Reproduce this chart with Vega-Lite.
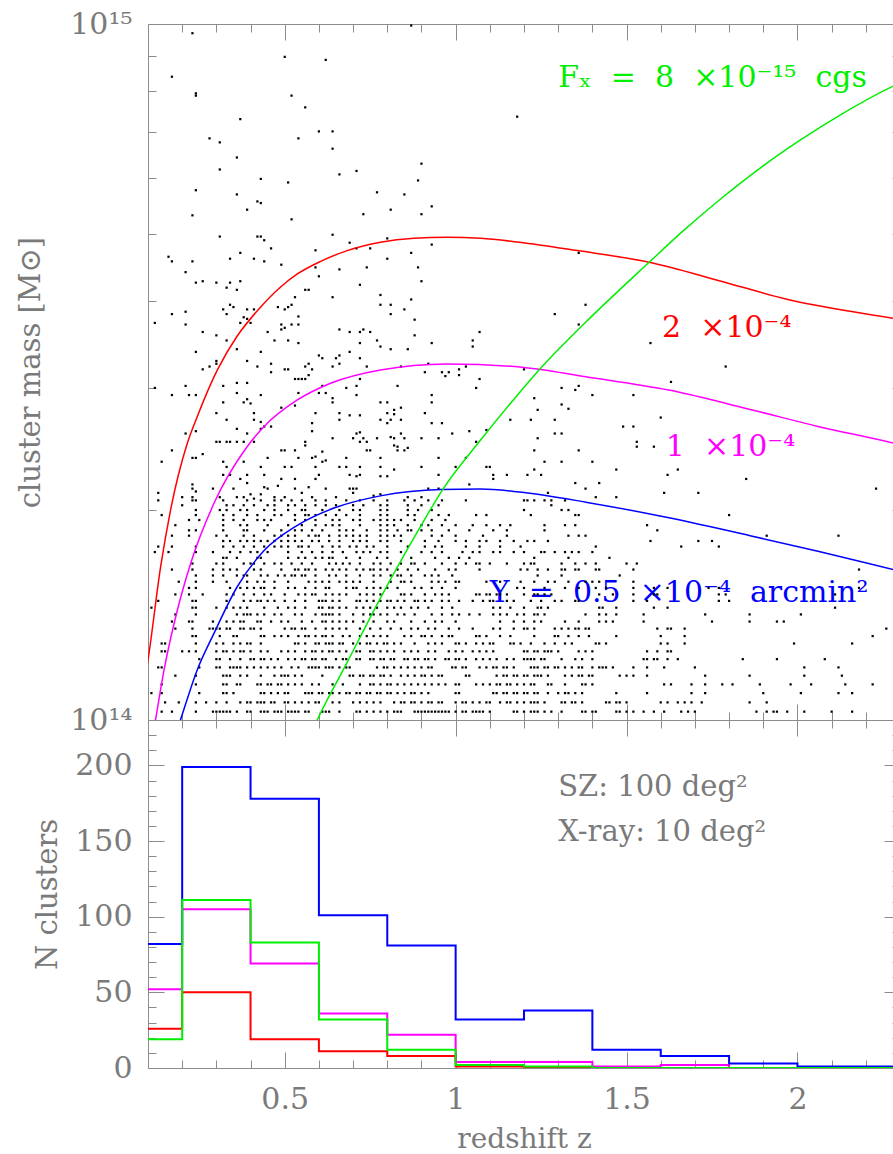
{
"$schema":"https://vega.github.io/schema/vega-lite/v6.json",
"background":"white",
"padding":{"left":16,"top":9,"right":0,"bottom":0},
"spacing":0,
"bounds":"flush",
"config":{"view":{"stroke":null},"font":"DejaVu Serif",
"axis":{"domainColor":"#8c8c8c","tickColor":"#8c8c8c","labelColor":"#7a7a7a","titleColor":"#7a7a7a","labelFont":"DejaVu Serif","titleFont":"DejaVu Serif","labelFontSize":30,"titleFontSize":29,"titleFontWeight":"normal","grid":false,"labelFlush":false,"labelOverlap":false,"tickWidth":1,"domainWidth":1}},
"datasets":{
"curves":[
{"s":"r","z":0.09,"m":1.14},{"s":"r","z":0.1,"m":1.22},{"s":"r","z":0.137,"m":1.661},{"s":"r","z":0.166,"m":2.003},{"s":"r","z":0.215,"m":2.498},{"s":"r","z":0.244,"m":2.728},{"s":"r","z":0.303,"m":3.184},{"s":"r","z":0.361,"m":3.562},{"s":"r","z":0.42,"m":3.874},{"s":"r","z":0.488,"m":4.19},{"s":"r","z":0.537,"m":4.374},{"s":"r","z":0.605,"m":4.56},{"s":"r","z":0.683,"m":4.725},{"s":"r","z":0.78,"m":4.858},{"s":"r","z":0.878,"m":4.922},{"s":"r","z":0.975,"m":4.938},{"s":"r","z":1.073,"m":4.922},{"s":"r","z":1.186,"m":4.858},{"s":"r","z":1.356,"m":4.725},{"s":"r","z":1.566,"m":4.546},{"s":"r","z":1.771,"m":4.278},{"s":"r","z":1.966,"m":4.026},{"s":"r","z":2.282,"m":3.777},{"s":"r","z":2.35,"m":3.73},
{"s":"mg","z":0.115,"m":0.955},{"s":"mg","z":0.122,"m":1.0},{"s":"mg","z":0.147,"m":1.18},{"s":"mg","z":0.186,"m":1.439},{"s":"mg","z":0.225,"m":1.68},{"s":"mg","z":0.293,"m":2.048},{"s":"mg","z":0.39,"m":2.47},{"s":"mg","z":0.439,"m":2.639},{"s":"mg","z":0.537,"m":2.883},{"s":"mg","z":0.634,"m":3.047},{"s":"mg","z":0.78,"m":3.184},{"s":"mg","z":0.975,"m":3.248},{"s":"mg","z":1.194,"m":3.213},{"s":"mg","z":1.381,"m":3.113},{"s":"mg","z":1.624,"m":2.979},{"s":"mg","z":1.868,"m":2.789},{"s":"mg","z":2.063,"m":2.639},{"s":"mg","z":2.282,"m":2.498},{"s":"mg","z":2.35,"m":2.45},
{"s":"b","z":0.18,"m":0.95},{"s":"b","z":0.195,"m":1.0},{"s":"b","z":0.244,"m":1.18},{"s":"b","z":0.293,"m":1.332},{"s":"b","z":0.361,"m":1.554},{"s":"b","z":0.439,"m":1.75},{"s":"b","z":0.537,"m":1.904},{"s":"b","z":0.644,"m":2.016},{"s":"b","z":0.78,"m":2.099},{"s":"b","z":0.956,"m":2.144},{"s":"b","z":1.073,"m":2.147},{"s":"b","z":1.186,"m":2.126},{"s":"b","z":1.381,"m":2.056},{"s":"b","z":1.624,"m":1.952},{"s":"b","z":1.868,"m":1.837},{"s":"b","z":2.063,"m":1.746},{"s":"b","z":2.282,"m":1.644},{"s":"b","z":2.35,"m":1.614},
{"s":"g","z":0.57,"m":0.94},{"s":"g","z":0.595,"m":1.0},{"s":"g","z":0.683,"m":1.211},{"s":"g","z":0.78,"m":1.497},{"s":"g","z":0.878,"m":1.826},{"s":"g","z":0.965,"m":2.154},{"s":"g","z":1.073,"m":2.525},{"s":"g","z":1.186,"m":2.951},{"s":"g","z":1.244,"m":3.184},{"s":"g","z":1.381,"m":3.731},{"s":"g","z":1.566,"m":4.546},{"s":"g","z":1.659,"m":5.01},{"s":"g","z":1.776,"m":5.61},{"s":"g","z":1.893,"m":6.22},{"s":"g","z":2.01,"m":6.82},{"s":"g","z":2.127,"m":7.41},{"s":"g","z":2.282,"m":8.15},{"s":"g","z":2.35,"m":8.42}
],
"labels":[
{"t":"Fₓ\u2007=\u20078\u2007×10⁻¹⁵\u2007cgs","z":1.3,"m":8.12,"s":"Fx"},
{"t":"2\u2007×10⁻⁴","z":1.604,"m":3.55,"s":"Y2"},
{"t":"1\u2007×10⁻⁴","z":1.615,"m":2.395,"s":"Y1"},
{"t":"Y\u2007=\u20070.5\u2007×10⁻⁴\u2007arcmin²","z":1.1,"m":1.477,"s":"Y05"}
],
"notes":[
{"t":"SZ: 100 deg²","z":1.3,"n":180},
{"t":"X-ray: 10 deg²","z":1.3,"n":150}
],
"hist":[
{"s":"r","z":0.1,"n":26},{"s":"r","z":0.2,"n":50},{"s":"r","z":0.4,"n":19},{"s":"r","z":0.6,"n":11},{"s":"r","z":0.8,"n":8},{"s":"r","z":1.0,"n":1},{"s":"r","z":1.2,"n":0},{"s":"r","z":1.4,"n":0},{"s":"r","z":1.6,"n":0},{"s":"r","z":1.8,"n":0},{"s":"r","z":2.0,"n":0},{"s":"r","z":2.2,"n":0},{"s":"r","z":2.4,"n":0},
{"s":"mg","z":0.1,"n":52},{"s":"mg","z":0.2,"n":105},{"s":"mg","z":0.4,"n":69},{"s":"mg","z":0.6,"n":36},{"s":"mg","z":0.8,"n":22},{"s":"mg","z":1.0,"n":4},{"s":"mg","z":1.2,"n":4},{"s":"mg","z":1.4,"n":1},{"s":"mg","z":1.6,"n":2},{"s":"mg","z":1.8,"n":0},{"s":"mg","z":2.0,"n":0},{"s":"mg","z":2.2,"n":0},{"s":"mg","z":2.4,"n":0},
{"s":"b","z":0.1,"n":82},{"s":"b","z":0.2,"n":199},{"s":"b","z":0.4,"n":178},{"s":"b","z":0.6,"n":101},{"s":"b","z":0.8,"n":81},{"s":"b","z":1.0,"n":32},{"s":"b","z":1.2,"n":38},{"s":"b","z":1.4,"n":12},{"s":"b","z":1.6,"n":8},{"s":"b","z":1.8,"n":3},{"s":"b","z":2.0,"n":1},{"s":"b","z":2.2,"n":1},{"s":"b","z":2.4,"n":1},
{"s":"g","z":0.1,"n":19},{"s":"g","z":0.2,"n":111},{"s":"g","z":0.4,"n":83},{"s":"g","z":0.6,"n":32},{"s":"g","z":0.8,"n":12},{"s":"g","z":1.0,"n":2},{"s":"g","z":1.2,"n":1},{"s":"g","z":1.4,"n":0},{"s":"g","z":1.6,"n":0},{"s":"g","z":1.8,"n":0},{"s":"g","z":2.0,"n":0},{"s":"g","z":2.2,"n":0},{"s":"g","z":2.4,"n":0}
],
"pts":[
{"z":0.14,"m":1.028},{"z":0.17,"m":1.028},{"z":0.24,"m":1.028},{"z":0.29,"m":1.028},{"z":0.30,"m":1.028},{"z":0.31,"m":1.028},{"z":0.32,"m":1.028},{"z":0.33,"m":1.028},{"z":0.34,"m":1.028},{"z":0.36,"m":1.028},{"z":0.39,"m":1.028},{"z":0.40,"m":1.028},{"z":0.43,"m":1.028},{"z":0.44,"m":1.028},{"z":0.45,"m":1.028},{"z":0.47,"m":1.028},{"z":0.48,"m":1.028},{"z":0.49,"m":1.028},{"z":0.51,"m":1.028},{"z":0.52,"m":1.028},{"z":0.53,"m":1.028},{"z":0.54,"m":1.028},{"z":0.56,"m":1.028},{"z":0.57,"m":1.028},{"z":0.61,"m":1.028},{"z":0.62,"m":1.028},{"z":0.63,"m":1.028},{"z":0.66,"m":1.028},{"z":0.71,"m":1.028},{"z":0.72,"m":1.028},{"z":0.74,"m":1.028},{"z":0.76,"m":1.028},{"z":0.78,"m":1.028},{"z":0.80,"m":1.028},{"z":0.82,"m":1.028},{"z":0.83,"m":1.028},{"z":0.84,"m":1.028},{"z":0.88,"m":1.028},{"z":0.89,"m":1.028},{"z":0.90,"m":1.028},{"z":0.91,"m":1.028},{"z":0.92,"m":1.028},{"z":0.93,"m":1.028},{"z":0.94,"m":1.028},{"z":0.95,"m":1.028},{"z":0.96,"m":1.028},{"z":0.97,"m":1.028},{"z":0.98,"m":1.028},{"z":1.00,"m":1.028},{"z":1.02,"m":1.028},{"z":1.03,"m":1.028},{"z":1.05,"m":1.028},{"z":1.06,"m":1.028},{"z":1.07,"m":1.028},{"z":1.08,"m":1.028},{"z":1.10,"m":1.028},{"z":1.17,"m":1.028},{"z":1.18,"m":1.028},{"z":1.20,"m":1.028},{"z":1.22,"m":1.028},{"z":1.23,"m":1.028},{"z":1.24,"m":1.028},{"z":1.26,"m":1.028},{"z":1.28,"m":1.028},{"z":1.31,"m":1.028},{"z":1.37,"m":1.028},{"z":1.38,"m":1.028},{"z":1.40,"m":1.028},{"z":1.41,"m":1.028},{"z":1.47,"m":1.028},{"z":1.48,"m":1.028},{"z":1.50,"m":1.028},{"z":1.52,"m":1.028},{"z":1.55,"m":1.028},{"z":1.58,"m":1.028},{"z":1.61,"m":1.028},{"z":1.66,"m":1.028},{"z":1.68,"m":1.028},{"z":1.70,"m":1.028},{"z":1.88,"m":1.028},{"z":1.91,"m":1.028},{"z":1.93,"m":1.028},{"z":1.94,"m":1.028},{"z":1.97,"m":1.028},{"z":2.02,"m":1.028},{"z":2.10,"m":1.028},{"z":2.16,"m":1.028},
{"z":0.15,"m":1.06},{"z":0.19,"m":1.06},{"z":0.24,"m":1.06},{"z":0.27,"m":1.06},{"z":0.30,"m":1.06},{"z":0.33,"m":1.06},{"z":0.37,"m":1.06},{"z":0.39,"m":1.06},{"z":0.40,"m":1.06},{"z":0.42,"m":1.06},{"z":0.43,"m":1.06},{"z":0.44,"m":1.06},{"z":0.46,"m":1.06},{"z":0.47,"m":1.06},{"z":0.50,"m":1.06},{"z":0.51,"m":1.06},{"z":0.53,"m":1.06},{"z":0.55,"m":1.06},{"z":0.57,"m":1.06},{"z":0.59,"m":1.06},{"z":0.60,"m":1.06},{"z":0.64,"m":1.06},{"z":0.66,"m":1.06},{"z":0.70,"m":1.06},{"z":0.72,"m":1.06},{"z":0.74,"m":1.06},{"z":0.76,"m":1.06},{"z":0.78,"m":1.06},{"z":0.82,"m":1.06},{"z":0.84,"m":1.06},{"z":0.85,"m":1.06},{"z":0.87,"m":1.06},{"z":0.88,"m":1.06},{"z":0.90,"m":1.06},{"z":0.92,"m":1.06},{"z":0.93,"m":1.06},{"z":0.95,"m":1.06},{"z":0.96,"m":1.06},{"z":1.00,"m":1.06},{"z":1.02,"m":1.06},{"z":1.03,"m":1.06},{"z":1.05,"m":1.06},{"z":1.07,"m":1.06},{"z":1.09,"m":1.06},{"z":1.10,"m":1.06},{"z":1.13,"m":1.06},{"z":1.15,"m":1.06},{"z":1.16,"m":1.06},{"z":1.18,"m":1.06},{"z":1.20,"m":1.06},{"z":1.22,"m":1.06},{"z":1.23,"m":1.06},{"z":1.24,"m":1.06},{"z":1.26,"m":1.06},{"z":1.31,"m":1.06},{"z":1.32,"m":1.06},{"z":1.34,"m":1.06},{"z":1.35,"m":1.06},{"z":1.37,"m":1.06},{"z":1.44,"m":1.06},{"z":1.45,"m":1.06},{"z":1.47,"m":1.06},{"z":1.48,"m":1.06},{"z":1.50,"m":1.06},{"z":1.60,"m":1.06},{"z":1.62,"m":1.06},{"z":1.65,"m":1.06},{"z":1.67,"m":1.06},{"z":1.69,"m":1.06},{"z":1.72,"m":1.06},{"z":1.86,"m":1.06},{"z":1.91,"m":1.06},
{"z":0.11,"m":1.093},{"z":0.14,"m":1.093},{"z":0.25,"m":1.093},{"z":0.32,"m":1.093},{"z":0.33,"m":1.093},{"z":0.35,"m":1.093},{"z":0.43,"m":1.093},{"z":0.44,"m":1.093},{"z":0.46,"m":1.093},{"z":0.48,"m":1.093},{"z":0.50,"m":1.093},{"z":0.51,"m":1.093},{"z":0.56,"m":1.093},{"z":0.57,"m":1.093},{"z":0.58,"m":1.093},{"z":0.60,"m":1.093},{"z":0.61,"m":1.093},{"z":0.63,"m":1.093},{"z":0.64,"m":1.093},{"z":0.66,"m":1.093},{"z":0.68,"m":1.093},{"z":0.69,"m":1.093},{"z":0.71,"m":1.093},{"z":0.72,"m":1.093},{"z":0.74,"m":1.093},{"z":0.75,"m":1.093},{"z":0.77,"m":1.093},{"z":0.78,"m":1.093},{"z":0.80,"m":1.093},{"z":0.81,"m":1.093},{"z":0.83,"m":1.093},{"z":0.85,"m":1.093},{"z":0.87,"m":1.093},{"z":0.88,"m":1.093},{"z":0.90,"m":1.093},{"z":0.92,"m":1.093},{"z":1.00,"m":1.093},{"z":1.01,"m":1.093},{"z":1.11,"m":1.093},{"z":1.12,"m":1.093},{"z":1.14,"m":1.093},{"z":1.15,"m":1.093},{"z":1.17,"m":1.093},{"z":1.18,"m":1.093},{"z":1.20,"m":1.093},{"z":1.21,"m":1.093},{"z":1.23,"m":1.093},{"z":1.24,"m":1.093},{"z":1.27,"m":1.093},{"z":1.30,"m":1.093},{"z":1.32,"m":1.093},{"z":1.33,"m":1.093},{"z":1.35,"m":1.093},{"z":1.37,"m":1.093},{"z":1.47,"m":1.093},{"z":1.56,"m":1.093},{"z":1.69,"m":1.093},{"z":1.73,"m":1.093},{"z":1.90,"m":1.093},{"z":2.01,"m":1.093},{"z":2.12,"m":1.093},{"z":2.16,"m":1.093},
{"z":0.14,"m":1.125},{"z":0.24,"m":1.125},{"z":0.32,"m":1.125},{"z":0.33,"m":1.125},{"z":0.36,"m":1.125},{"z":0.37,"m":1.125},{"z":0.42,"m":1.125},{"z":0.43,"m":1.125},{"z":0.45,"m":1.125},{"z":0.46,"m":1.125},{"z":0.48,"m":1.125},{"z":0.49,"m":1.125},{"z":0.51,"m":1.125},{"z":0.53,"m":1.125},{"z":0.55,"m":1.125},{"z":0.58,"m":1.125},{"z":0.60,"m":1.125},{"z":0.64,"m":1.125},{"z":0.67,"m":1.125},{"z":0.72,"m":1.125},{"z":0.75,"m":1.125},{"z":0.76,"m":1.125},{"z":0.78,"m":1.125},{"z":0.80,"m":1.125},{"z":0.81,"m":1.125},{"z":0.83,"m":1.125},{"z":0.85,"m":1.125},{"z":0.87,"m":1.125},{"z":0.89,"m":1.125},{"z":0.91,"m":1.125},{"z":0.93,"m":1.125},{"z":0.95,"m":1.125},{"z":0.97,"m":1.125},{"z":1.00,"m":1.125},{"z":1.01,"m":1.125},{"z":1.06,"m":1.125},{"z":1.08,"m":1.125},{"z":1.10,"m":1.125},{"z":1.12,"m":1.125},{"z":1.13,"m":1.125},{"z":1.15,"m":1.125},{"z":1.16,"m":1.125},{"z":1.18,"m":1.125},{"z":1.20,"m":1.125},{"z":1.22,"m":1.125},{"z":1.23,"m":1.125},{"z":1.27,"m":1.125},{"z":1.28,"m":1.125},{"z":1.32,"m":1.125},{"z":1.37,"m":1.125},{"z":1.38,"m":1.125},{"z":1.40,"m":1.125},{"z":1.61,"m":1.125},{"z":1.63,"m":1.125},{"z":1.69,"m":1.125},{"z":1.73,"m":1.125},{"z":1.78,"m":1.125},{"z":1.81,"m":1.125},{"z":1.89,"m":1.125},{"z":1.98,"m":1.125},{"z":2.04,"m":1.125},{"z":2.14,"m":1.125},{"z":2.22,"m":1.125},
{"z":0.18,"m":1.158},{"z":0.24,"m":1.158},{"z":0.32,"m":1.158},{"z":0.33,"m":1.158},{"z":0.34,"m":1.158},{"z":0.37,"m":1.158},{"z":0.39,"m":1.158},{"z":0.43,"m":1.158},{"z":0.47,"m":1.158},{"z":0.49,"m":1.158},{"z":0.50,"m":1.158},{"z":0.51,"m":1.158},{"z":0.53,"m":1.158},{"z":0.55,"m":1.158},{"z":0.61,"m":1.158},{"z":0.69,"m":1.158},{"z":0.70,"m":1.158},{"z":0.72,"m":1.158},{"z":0.73,"m":1.158},{"z":0.75,"m":1.158},{"z":0.76,"m":1.158},{"z":0.78,"m":1.158},{"z":0.79,"m":1.158},{"z":0.81,"m":1.158},{"z":0.84,"m":1.158},{"z":0.86,"m":1.158},{"z":0.88,"m":1.158},{"z":0.90,"m":1.158},{"z":0.91,"m":1.158},{"z":0.93,"m":1.158},{"z":0.95,"m":1.158},{"z":0.96,"m":1.158},{"z":1.03,"m":1.158},{"z":1.04,"m":1.158},{"z":1.12,"m":1.158},{"z":1.14,"m":1.158},{"z":1.15,"m":1.158},{"z":1.17,"m":1.158},{"z":1.18,"m":1.158},{"z":1.20,"m":1.158},{"z":1.21,"m":1.158},{"z":1.23,"m":1.158},{"z":1.24,"m":1.158},{"z":1.25,"m":1.158},{"z":1.27,"m":1.158},{"z":1.32,"m":1.158},{"z":1.34,"m":1.158},{"z":1.36,"m":1.158},{"z":1.37,"m":1.158},{"z":1.39,"m":1.158},{"z":1.40,"m":1.158},{"z":1.48,"m":1.158},{"z":1.50,"m":1.158},{"z":1.52,"m":1.158},{"z":1.56,"m":1.158},{"z":1.73,"m":1.158},{"z":1.86,"m":1.158},{"z":2.02,"m":1.158},{"z":2.13,"m":1.158},
{"z":0.13,"m":1.19},{"z":0.14,"m":1.19},{"z":0.25,"m":1.19},{"z":0.30,"m":1.19},{"z":0.31,"m":1.19},{"z":0.34,"m":1.19},{"z":0.35,"m":1.19},{"z":0.36,"m":1.19},{"z":0.37,"m":1.19},{"z":0.39,"m":1.19},{"z":0.41,"m":1.19},{"z":0.43,"m":1.19},{"z":0.45,"m":1.19},{"z":0.47,"m":1.19},{"z":0.49,"m":1.19},{"z":0.52,"m":1.19},{"z":0.54,"m":1.19},{"z":0.57,"m":1.19},{"z":0.58,"m":1.19},{"z":0.59,"m":1.19},{"z":0.60,"m":1.19},{"z":0.62,"m":1.19},{"z":0.63,"m":1.19},{"z":0.64,"m":1.19},{"z":0.66,"m":1.19},{"z":0.68,"m":1.19},{"z":0.69,"m":1.19},{"z":0.77,"m":1.19},{"z":0.79,"m":1.19},{"z":0.80,"m":1.19},{"z":0.82,"m":1.19},{"z":0.84,"m":1.19},{"z":0.86,"m":1.19},{"z":0.88,"m":1.19},{"z":0.90,"m":1.19},{"z":0.92,"m":1.19},{"z":0.93,"m":1.19},{"z":0.99,"m":1.19},{"z":1.00,"m":1.19},{"z":1.02,"m":1.19},{"z":1.03,"m":1.19},{"z":1.07,"m":1.19},{"z":1.09,"m":1.19},{"z":1.11,"m":1.19},{"z":1.12,"m":1.19},{"z":1.14,"m":1.19},{"z":1.15,"m":1.19},{"z":1.17,"m":1.19},{"z":1.22,"m":1.19},{"z":1.23,"m":1.19},{"z":1.24,"m":1.19},{"z":1.26,"m":1.19},{"z":1.27,"m":1.19},{"z":1.29,"m":1.19},{"z":1.30,"m":1.19},{"z":1.32,"m":1.19},{"z":1.34,"m":1.19},{"z":1.36,"m":1.19},{"z":1.37,"m":1.19},{"z":1.40,"m":1.19},{"z":1.42,"m":1.19},{"z":1.43,"m":1.19},{"z":1.44,"m":1.19},{"z":1.46,"m":1.19},{"z":1.52,"m":1.19},{"z":1.56,"m":1.19},{"z":1.61,"m":1.19},{"z":1.70,"m":1.19},{"z":2.02,"m":1.19},{"z":2.12,"m":1.19},
{"z":0.25,"m":1.223},{"z":0.30,"m":1.223},{"z":0.31,"m":1.223},{"z":0.34,"m":1.223},{"z":0.37,"m":1.223},{"z":0.40,"m":1.223},{"z":0.41,"m":1.223},{"z":0.43,"m":1.223},{"z":0.44,"m":1.223},{"z":0.46,"m":1.223},{"z":0.48,"m":1.223},{"z":0.51,"m":1.223},{"z":0.53,"m":1.223},{"z":0.55,"m":1.223},{"z":0.56,"m":1.223},{"z":0.58,"m":1.223},{"z":0.59,"m":1.223},{"z":0.61,"m":1.223},{"z":0.62,"m":1.223},{"z":0.65,"m":1.223},{"z":0.67,"m":1.223},{"z":0.68,"m":1.223},{"z":0.71,"m":1.223},{"z":0.72,"m":1.223},{"z":0.75,"m":1.223},{"z":0.76,"m":1.223},{"z":0.78,"m":1.223},{"z":0.79,"m":1.223},{"z":0.81,"m":1.223},{"z":0.82,"m":1.223},{"z":0.85,"m":1.223},{"z":0.86,"m":1.223},{"z":0.88,"m":1.223},{"z":0.89,"m":1.223},{"z":0.91,"m":1.223},{"z":0.92,"m":1.223},{"z":0.94,"m":1.223},{"z":0.97,"m":1.223},{"z":0.98,"m":1.223},{"z":1.00,"m":1.223},{"z":1.01,"m":1.223},{"z":1.03,"m":1.223},{"z":1.06,"m":1.223},{"z":1.08,"m":1.223},{"z":1.10,"m":1.223},{"z":1.12,"m":1.223},{"z":1.15,"m":1.223},{"z":1.17,"m":1.223},{"z":1.20,"m":1.223},{"z":1.21,"m":1.223},{"z":1.22,"m":1.223},{"z":1.23,"m":1.223},{"z":1.25,"m":1.223},{"z":1.26,"m":1.223},{"z":1.31,"m":1.223},{"z":1.35,"m":1.223},{"z":1.37,"m":1.223},{"z":1.40,"m":1.223},{"z":1.55,"m":1.223},{"z":1.56,"m":1.223},{"z":1.58,"m":1.223},{"z":1.59,"m":1.223},{"z":1.62,"m":1.223},{"z":1.65,"m":1.223},{"z":1.84,"m":1.223},{"z":1.94,"m":1.223},{"z":2.08,"m":1.223},
{"z":0.14,"m":1.255},{"z":0.15,"m":1.255},{"z":0.20,"m":1.255},{"z":0.22,"m":1.255},{"z":0.24,"m":1.255},{"z":0.30,"m":1.255},{"z":0.32,"m":1.255},{"z":0.33,"m":1.255},{"z":0.35,"m":1.255},{"z":0.37,"m":1.255},{"z":0.38,"m":1.255},{"z":0.40,"m":1.255},{"z":0.43,"m":1.255},{"z":0.45,"m":1.255},{"z":0.49,"m":1.255},{"z":0.51,"m":1.255},{"z":0.53,"m":1.255},{"z":0.56,"m":1.255},{"z":0.58,"m":1.255},{"z":0.59,"m":1.255},{"z":0.61,"m":1.255},{"z":0.63,"m":1.255},{"z":0.64,"m":1.255},{"z":0.66,"m":1.255},{"z":0.68,"m":1.255},{"z":0.71,"m":1.255},{"z":0.72,"m":1.255},{"z":0.75,"m":1.255},{"z":0.76,"m":1.255},{"z":0.78,"m":1.255},{"z":0.80,"m":1.255},{"z":0.82,"m":1.255},{"z":0.85,"m":1.255},{"z":0.87,"m":1.255},{"z":0.89,"m":1.255},{"z":0.92,"m":1.255},{"z":0.94,"m":1.255},{"z":0.98,"m":1.255},{"z":1.00,"m":1.255},{"z":1.02,"m":1.255},{"z":1.05,"m":1.255},{"z":1.07,"m":1.255},{"z":1.09,"m":1.255},{"z":1.11,"m":1.255},{"z":1.20,"m":1.255},{"z":1.21,"m":1.255},{"z":1.23,"m":1.255},{"z":1.24,"m":1.255},{"z":1.26,"m":1.255},{"z":1.27,"m":1.255},{"z":1.28,"m":1.255},{"z":1.30,"m":1.255},{"z":1.36,"m":1.255},{"z":1.38,"m":1.255},{"z":1.40,"m":1.255},{"z":1.56,"m":1.255},{"z":1.59,"m":1.255},{"z":1.62,"m":1.255},{"z":1.63,"m":1.255},
{"z":0.14,"m":1.288},{"z":0.15,"m":1.288},{"z":0.24,"m":1.288},{"z":0.30,"m":1.288},{"z":0.32,"m":1.288},{"z":0.35,"m":1.288},{"z":0.37,"m":1.288},{"z":0.39,"m":1.288},{"z":0.40,"m":1.288},{"z":0.43,"m":1.288},{"z":0.53,"m":1.288},{"z":0.54,"m":1.288},{"z":0.56,"m":1.288},{"z":0.59,"m":1.288},{"z":0.60,"m":1.288},{"z":0.62,"m":1.288},{"z":0.63,"m":1.288},{"z":0.64,"m":1.288},{"z":0.66,"m":1.288},{"z":0.67,"m":1.288},{"z":0.70,"m":1.288},{"z":0.72,"m":1.288},{"z":0.74,"m":1.288},{"z":0.75,"m":1.288},{"z":0.77,"m":1.288},{"z":0.79,"m":1.288},{"z":0.80,"m":1.288},{"z":0.82,"m":1.288},{"z":0.84,"m":1.288},{"z":0.88,"m":1.288},{"z":0.92,"m":1.288},{"z":0.94,"m":1.288},{"z":0.96,"m":1.288},{"z":1.00,"m":1.288},{"z":1.01,"m":1.288},{"z":1.03,"m":1.288},{"z":1.06,"m":1.288},{"z":1.08,"m":1.288},{"z":1.10,"m":1.288},{"z":1.11,"m":1.288},{"z":1.16,"m":1.288},{"z":1.17,"m":1.288},{"z":1.19,"m":1.288},{"z":1.22,"m":1.288},{"z":1.26,"m":1.288},{"z":1.29,"m":1.288},{"z":1.32,"m":1.288},{"z":1.34,"m":1.288},{"z":1.41,"m":1.288},{"z":1.42,"m":1.288},{"z":1.44,"m":1.288},{"z":1.60,"m":1.288},{"z":1.62,"m":1.288},{"z":1.67,"m":1.288},{"z":1.99,"m":1.288},{"z":2.16,"m":1.288},
{"z":0.23,"m":1.32},{"z":0.24,"m":1.32},{"z":0.31,"m":1.32},{"z":0.35,"m":1.32},{"z":0.36,"m":1.32},{"z":0.43,"m":1.32},{"z":0.44,"m":1.32},{"z":0.47,"m":1.32},{"z":0.49,"m":1.32},{"z":0.51,"m":1.32},{"z":0.54,"m":1.32},{"z":0.56,"m":1.32},{"z":0.57,"m":1.32},{"z":0.59,"m":1.32},{"z":0.61,"m":1.32},{"z":0.62,"m":1.32},{"z":0.64,"m":1.32},{"z":0.67,"m":1.32},{"z":0.69,"m":1.32},{"z":0.72,"m":1.32},{"z":0.74,"m":1.32},{"z":0.76,"m":1.32},{"z":0.78,"m":1.32},{"z":0.80,"m":1.32},{"z":0.85,"m":1.32},{"z":0.87,"m":1.32},{"z":0.90,"m":1.32},{"z":0.91,"m":1.32},{"z":0.93,"m":1.32},{"z":0.96,"m":1.32},{"z":0.98,"m":1.32},{"z":0.99,"m":1.32},{"z":1.06,"m":1.32},{"z":1.07,"m":1.32},{"z":1.09,"m":1.32},{"z":1.13,"m":1.32},{"z":1.16,"m":1.32},{"z":1.23,"m":1.32},{"z":1.29,"m":1.32},{"z":1.30,"m":1.32},{"z":1.33,"m":1.32},{"z":1.36,"m":1.32},{"z":1.39,"m":1.32},{"z":1.47,"m":1.32},{"z":1.60,"m":1.32},{"z":1.67,"m":1.32},{"z":2.22,"m":1.32},
{"z":0.18,"m":1.353},{"z":0.23,"m":1.353},{"z":0.28,"m":1.353},{"z":0.29,"m":1.353},{"z":0.30,"m":1.353},{"z":0.31,"m":1.353},{"z":0.33,"m":1.353},{"z":0.34,"m":1.353},{"z":0.37,"m":1.353},{"z":0.38,"m":1.353},{"z":0.40,"m":1.353},{"z":0.41,"m":1.353},{"z":0.43,"m":1.353},{"z":0.50,"m":1.353},{"z":0.52,"m":1.353},{"z":0.53,"m":1.353},{"z":0.55,"m":1.353},{"z":0.56,"m":1.353},{"z":0.59,"m":1.353},{"z":0.62,"m":1.353},{"z":0.64,"m":1.353},{"z":0.66,"m":1.353},{"z":0.68,"m":1.353},{"z":0.72,"m":1.353},{"z":0.75,"m":1.353},{"z":0.78,"m":1.353},{"z":0.81,"m":1.353},{"z":0.84,"m":1.353},{"z":0.87,"m":1.353},{"z":0.89,"m":1.353},{"z":0.92,"m":1.353},{"z":0.94,"m":1.353},{"z":0.98,"m":1.353},{"z":1.01,"m":1.353},{"z":1.05,"m":1.353},{"z":1.11,"m":1.353},{"z":1.13,"m":1.353},{"z":1.17,"m":1.353},{"z":1.20,"m":1.353},{"z":1.21,"m":1.353},{"z":1.23,"m":1.353},{"z":1.29,"m":1.353},{"z":1.31,"m":1.353},{"z":1.33,"m":1.353},{"z":1.35,"m":1.353},{"z":1.36,"m":1.353},{"z":1.38,"m":1.353},{"z":1.39,"m":1.353},{"z":1.59,"m":1.353},{"z":1.62,"m":1.353},{"z":1.63,"m":1.353},{"z":1.67,"m":1.353},{"z":2.26,"m":1.353},
{"z":0.17,"m":1.385},{"z":0.22,"m":1.385},{"z":0.23,"m":1.385},{"z":0.29,"m":1.385},{"z":0.33,"m":1.385},{"z":0.35,"m":1.385},{"z":0.37,"m":1.385},{"z":0.38,"m":1.385},{"z":0.42,"m":1.385},{"z":0.43,"m":1.385},{"z":0.46,"m":1.385},{"z":0.49,"m":1.385},{"z":0.51,"m":1.385},{"z":0.55,"m":1.385},{"z":0.58,"m":1.385},{"z":0.61,"m":1.385},{"z":0.62,"m":1.385},{"z":0.64,"m":1.385},{"z":0.66,"m":1.385},{"z":0.68,"m":1.385},{"z":0.70,"m":1.385},{"z":0.73,"m":1.385},{"z":0.76,"m":1.385},{"z":0.80,"m":1.385},{"z":0.82,"m":1.385},{"z":0.87,"m":1.385},{"z":0.91,"m":1.385},{"z":0.94,"m":1.385},{"z":0.96,"m":1.385},{"z":1.00,"m":1.385},{"z":1.13,"m":1.385},{"z":1.17,"m":1.385},{"z":1.20,"m":1.385},{"z":1.23,"m":1.385},{"z":1.25,"m":1.385},{"z":1.32,"m":1.385},{"z":1.36,"m":1.385},{"z":1.42,"m":1.385},{"z":1.44,"m":1.385},{"z":1.46,"m":1.385},{"z":1.55,"m":1.385},{"z":1.75,"m":1.385},{"z":1.86,"m":1.385},{"z":1.94,"m":1.385},{"z":1.96,"m":1.385},
{"z":0.18,"m":1.418},{"z":0.24,"m":1.418},{"z":0.36,"m":1.418},{"z":0.38,"m":1.418},{"z":0.39,"m":1.418},{"z":0.40,"m":1.418},{"z":0.42,"m":1.418},{"z":0.44,"m":1.418},{"z":0.47,"m":1.418},{"z":0.49,"m":1.418},{"z":0.53,"m":1.418},{"z":0.55,"m":1.418},{"z":0.59,"m":1.418},{"z":0.61,"m":1.418},{"z":0.62,"m":1.418},{"z":0.63,"m":1.418},{"z":0.64,"m":1.418},{"z":0.66,"m":1.418},{"z":0.70,"m":1.418},{"z":0.73,"m":1.418},{"z":0.75,"m":1.418},{"z":0.76,"m":1.418},{"z":0.78,"m":1.418},{"z":0.80,"m":1.418},{"z":0.83,"m":1.418},{"z":0.85,"m":1.418},{"z":0.88,"m":1.418},{"z":0.93,"m":1.418},{"z":0.96,"m":1.418},{"z":0.99,"m":1.418},{"z":1.01,"m":1.418},{"z":1.04,"m":1.418},{"z":1.07,"m":1.418},{"z":1.11,"m":1.418},{"z":1.13,"m":1.418},{"z":1.15,"m":1.418},{"z":1.18,"m":1.418},{"z":1.20,"m":1.418},{"z":1.23,"m":1.418},{"z":1.24,"m":1.418},{"z":1.26,"m":1.418},{"z":1.38,"m":1.418},{"z":1.42,"m":1.418},{"z":1.44,"m":1.418},{"z":1.47,"m":1.418},{"z":1.55,"m":1.418},{"z":1.73,"m":1.418},{"z":1.86,"m":1.418},{"z":2.01,"m":1.418},
{"z":0.11,"m":1.45},{"z":0.23,"m":1.45},{"z":0.24,"m":1.45},{"z":0.30,"m":1.45},{"z":0.33,"m":1.45},{"z":0.35,"m":1.45},{"z":0.37,"m":1.45},{"z":0.39,"m":1.45},{"z":0.44,"m":1.45},{"z":0.48,"m":1.45},{"z":0.51,"m":1.45},{"z":0.53,"m":1.45},{"z":0.56,"m":1.45},{"z":0.60,"m":1.45},{"z":0.61,"m":1.45},{"z":0.63,"m":1.45},{"z":0.64,"m":1.45},{"z":0.66,"m":1.45},{"z":0.68,"m":1.45},{"z":0.71,"m":1.45},{"z":0.73,"m":1.45},{"z":0.75,"m":1.45},{"z":0.77,"m":1.45},{"z":0.80,"m":1.45},{"z":0.82,"m":1.45},{"z":0.84,"m":1.45},{"z":0.87,"m":1.45},{"z":0.89,"m":1.45},{"z":0.92,"m":1.45},{"z":0.96,"m":1.45},{"z":0.99,"m":1.45},{"z":1.11,"m":1.45},{"z":1.13,"m":1.45},{"z":1.16,"m":1.45},{"z":1.20,"m":1.45},{"z":1.24,"m":1.45},{"z":1.25,"m":1.45},{"z":1.27,"m":1.45},{"z":1.42,"m":1.45},{"z":1.43,"m":1.45},{"z":1.47,"m":1.45},{"z":1.58,"m":1.45},{"z":1.62,"m":1.45},{"z":2.11,"m":1.45},
{"z":0.13,"m":1.483},{"z":0.23,"m":1.483},{"z":0.24,"m":1.483},{"z":0.33,"m":1.483},{"z":0.38,"m":1.483},{"z":0.40,"m":1.483},{"z":0.42,"m":1.483},{"z":0.43,"m":1.483},{"z":0.45,"m":1.483},{"z":0.47,"m":1.483},{"z":0.50,"m":1.483},{"z":0.53,"m":1.483},{"z":0.56,"m":1.483},{"z":0.60,"m":1.483},{"z":0.61,"m":1.483},{"z":0.62,"m":1.483},{"z":0.64,"m":1.483},{"z":0.66,"m":1.483},{"z":0.71,"m":1.483},{"z":0.72,"m":1.483},{"z":0.74,"m":1.483},{"z":0.76,"m":1.483},{"z":0.78,"m":1.483},{"z":0.80,"m":1.483},{"z":0.81,"m":1.483},{"z":0.83,"m":1.483},{"z":0.85,"m":1.483},{"z":0.88,"m":1.483},{"z":0.89,"m":1.483},{"z":0.91,"m":1.483},{"z":0.93,"m":1.483},{"z":0.96,"m":1.483},{"z":0.98,"m":1.483},{"z":1.01,"m":1.483},{"z":1.05,"m":1.483},{"z":1.08,"m":1.483},{"z":1.10,"m":1.483},{"z":1.11,"m":1.483},{"z":1.15,"m":1.483},{"z":1.17,"m":1.483},{"z":1.22,"m":1.483},{"z":1.25,"m":1.483},{"z":1.29,"m":1.483},{"z":1.31,"m":1.483},{"z":1.35,"m":1.483},{"z":1.36,"m":1.483},{"z":1.52,"m":1.483},{"z":1.56,"m":1.483},{"z":1.77,"m":1.483},{"z":1.80,"m":1.483},
{"z":0.18,"m":1.515},{"z":0.22,"m":1.515},{"z":0.26,"m":1.515},{"z":0.33,"m":1.515},{"z":0.35,"m":1.515},{"z":0.38,"m":1.515},{"z":0.41,"m":1.515},{"z":0.44,"m":1.515},{"z":0.46,"m":1.515},{"z":0.50,"m":1.515},{"z":0.54,"m":1.515},{"z":0.56,"m":1.515},{"z":0.58,"m":1.515},{"z":0.59,"m":1.515},{"z":0.62,"m":1.515},{"z":0.64,"m":1.515},{"z":0.66,"m":1.515},{"z":0.68,"m":1.515},{"z":0.72,"m":1.515},{"z":0.74,"m":1.515},{"z":0.76,"m":1.515},{"z":0.78,"m":1.515},{"z":0.84,"m":1.515},{"z":0.85,"m":1.515},{"z":0.87,"m":1.515},{"z":0.91,"m":1.515},{"z":0.94,"m":1.515},{"z":0.96,"m":1.515},{"z":0.98,"m":1.515},{"z":1.06,"m":1.515},{"z":1.07,"m":1.515},{"z":1.09,"m":1.515},{"z":1.10,"m":1.515},{"z":1.12,"m":1.515},{"z":1.13,"m":1.515},{"z":1.15,"m":1.515},{"z":1.20,"m":1.515},{"z":1.23,"m":1.515},{"z":1.24,"m":1.515},{"z":1.26,"m":1.515},{"z":1.28,"m":1.515},{"z":1.42,"m":1.515},{"z":1.46,"m":1.515},{"z":1.52,"m":1.515},{"z":1.58,"m":1.515},{"z":1.59,"m":1.515},{"z":1.77,"m":1.515},{"z":1.79,"m":1.515},{"z":2.11,"m":1.515},
{"z":0.22,"m":1.548},{"z":0.24,"m":1.548},{"z":0.34,"m":1.548},{"z":0.37,"m":1.548},{"z":0.39,"m":1.548},{"z":0.41,"m":1.548},{"z":0.43,"m":1.548},{"z":0.44,"m":1.548},{"z":0.47,"m":1.548},{"z":0.51,"m":1.548},{"z":0.53,"m":1.548},{"z":0.56,"m":1.548},{"z":0.59,"m":1.548},{"z":0.62,"m":1.548},{"z":0.63,"m":1.548},{"z":0.68,"m":1.548},{"z":0.70,"m":1.548},{"z":0.71,"m":1.548},{"z":0.74,"m":1.548},{"z":0.76,"m":1.548},{"z":0.78,"m":1.548},{"z":0.80,"m":1.548},{"z":0.83,"m":1.548},{"z":0.88,"m":1.548},{"z":0.90,"m":1.548},{"z":0.93,"m":1.548},{"z":0.96,"m":1.548},{"z":1.00,"m":1.548},{"z":1.18,"m":1.548},{"z":1.20,"m":1.548},{"z":1.26,"m":1.548},{"z":1.32,"m":1.548},{"z":1.36,"m":1.548},{"z":1.41,"m":1.548},{"z":1.44,"m":1.548},{"z":1.52,"m":1.548},{"z":1.58,"m":1.548},{"z":1.62,"m":1.548},{"z":1.74,"m":1.548},{"z":1.77,"m":1.548},{"z":2.18,"m":1.548},
{"z":0.19,"m":1.58},{"z":0.24,"m":1.58},{"z":0.29,"m":1.58},{"z":0.33,"m":1.58},{"z":0.39,"m":1.58},{"z":0.42,"m":1.58},{"z":0.44,"m":1.58},{"z":0.47,"m":1.58},{"z":0.51,"m":1.58},{"z":0.57,"m":1.58},{"z":0.59,"m":1.58},{"z":0.61,"m":1.58},{"z":0.63,"m":1.58},{"z":0.66,"m":1.58},{"z":0.68,"m":1.58},{"z":0.70,"m":1.58},{"z":0.72,"m":1.58},{"z":0.76,"m":1.58},{"z":0.81,"m":1.58},{"z":0.84,"m":1.58},{"z":0.85,"m":1.58},{"z":0.87,"m":1.58},{"z":0.93,"m":1.58},{"z":0.95,"m":1.58},{"z":0.97,"m":1.58},{"z":1.00,"m":1.58},{"z":1.01,"m":1.58},{"z":1.09,"m":1.58},{"z":1.13,"m":1.58},{"z":1.19,"m":1.58},{"z":1.23,"m":1.58},{"z":1.27,"m":1.58},{"z":1.29,"m":1.58},{"z":1.33,"m":1.58},{"z":1.38,"m":1.58},{"z":1.40,"m":1.58},{"z":1.42,"m":1.58},{"z":1.52,"m":1.58},
{"z":0.24,"m":1.613},{"z":0.29,"m":1.613},{"z":0.32,"m":1.613},{"z":0.36,"m":1.613},{"z":0.38,"m":1.613},{"z":0.39,"m":1.613},{"z":0.43,"m":1.613},{"z":0.45,"m":1.613},{"z":0.48,"m":1.613},{"z":0.50,"m":1.613},{"z":0.52,"m":1.613},{"z":0.53,"m":1.613},{"z":0.55,"m":1.613},{"z":0.56,"m":1.613},{"z":0.59,"m":1.613},{"z":0.63,"m":1.613},{"z":0.65,"m":1.613},{"z":0.68,"m":1.613},{"z":0.72,"m":1.613},{"z":0.76,"m":1.613},{"z":0.78,"m":1.613},{"z":0.81,"m":1.613},{"z":0.83,"m":1.613},{"z":0.84,"m":1.613},{"z":0.87,"m":1.613},{"z":0.91,"m":1.613},{"z":0.93,"m":1.613},{"z":0.95,"m":1.613},{"z":0.99,"m":1.613},{"z":1.24,"m":1.613},{"z":1.31,"m":1.613},{"z":1.48,"m":1.613},
{"z":0.17,"m":1.645},{"z":0.23,"m":1.645},{"z":0.29,"m":1.645},{"z":0.32,"m":1.645},{"z":0.34,"m":1.645},{"z":0.36,"m":1.645},{"z":0.41,"m":1.645},{"z":0.43,"m":1.645},{"z":0.49,"m":1.645},{"z":0.53,"m":1.645},{"z":0.54,"m":1.645},{"z":0.56,"m":1.645},{"z":0.57,"m":1.645},{"z":0.59,"m":1.645},{"z":0.62,"m":1.645},{"z":0.64,"m":1.645},{"z":0.66,"m":1.645},{"z":0.68,"m":1.645},{"z":0.71,"m":1.645},{"z":0.73,"m":1.645},{"z":0.75,"m":1.645},{"z":0.76,"m":1.645},{"z":0.78,"m":1.645},{"z":0.80,"m":1.645},{"z":0.83,"m":1.645},{"z":0.86,"m":1.645},{"z":0.89,"m":1.645},{"z":0.94,"m":1.645},{"z":0.98,"m":1.645},{"z":1.00,"m":1.645},{"z":1.07,"m":1.645},{"z":1.19,"m":1.645},{"z":1.21,"m":1.645},{"z":1.24,"m":1.645},{"z":1.27,"m":1.645},{"z":1.31,"m":1.645},{"z":1.32,"m":1.645},{"z":1.35,"m":1.645},{"z":1.36,"m":1.645},{"z":1.41,"m":1.645},{"z":1.42,"m":1.645},{"z":1.52,"m":1.645},{"z":2.18,"m":1.645},
{"z":0.23,"m":1.678},{"z":0.30,"m":1.678},{"z":0.32,"m":1.678},{"z":0.38,"m":1.678},{"z":0.40,"m":1.678},{"z":0.41,"m":1.678},{"z":0.44,"m":1.678},{"z":0.47,"m":1.678},{"z":0.49,"m":1.678},{"z":0.52,"m":1.678},{"z":0.55,"m":1.678},{"z":0.58,"m":1.678},{"z":0.63,"m":1.678},{"z":0.65,"m":1.678},{"z":0.67,"m":1.678},{"z":0.69,"m":1.678},{"z":0.72,"m":1.678},{"z":0.76,"m":1.678},{"z":0.78,"m":1.678},{"z":0.81,"m":1.678},{"z":0.84,"m":1.678},{"z":0.87,"m":1.678},{"z":0.88,"m":1.678},{"z":0.91,"m":1.678},{"z":0.96,"m":1.678},{"z":1.00,"m":1.678},{"z":1.03,"m":1.678},{"z":1.06,"m":1.678},{"z":1.07,"m":1.678},{"z":1.10,"m":1.678},{"z":1.15,"m":1.678},{"z":1.20,"m":1.678},{"z":1.22,"m":1.678},{"z":1.23,"m":1.678},{"z":1.31,"m":1.678},{"z":1.35,"m":1.678},{"z":1.38,"m":1.678},{"z":1.41,"m":1.678},{"z":1.50,"m":1.678},{"z":1.53,"m":1.678},
{"z":0.32,"m":1.71},{"z":0.33,"m":1.71},{"z":0.36,"m":1.71},{"z":0.42,"m":1.71},{"z":0.43,"m":1.71},{"z":0.51,"m":1.71},{"z":0.54,"m":1.71},{"z":0.56,"m":1.71},{"z":0.59,"m":1.71},{"z":0.61,"m":1.71},{"z":0.63,"m":1.71},{"z":0.64,"m":1.71},{"z":0.68,"m":1.71},{"z":0.72,"m":1.71},{"z":0.77,"m":1.71},{"z":0.80,"m":1.71},{"z":0.87,"m":1.71},{"z":0.94,"m":1.71},{"z":0.98,"m":1.71},{"z":1.01,"m":1.71},{"z":1.04,"m":1.71},{"z":1.23,"m":1.71},{"z":1.33,"m":1.71},{"z":1.45,"m":1.71},
{"z":0.12,"m":1.743},{"z":0.16,"m":1.743},{"z":0.24,"m":1.743},{"z":0.29,"m":1.743},{"z":0.34,"m":1.743},{"z":0.37,"m":1.743},{"z":0.40,"m":1.743},{"z":0.42,"m":1.743},{"z":0.45,"m":1.743},{"z":0.51,"m":1.743},{"z":0.55,"m":1.743},{"z":0.58,"m":1.743},{"z":0.61,"m":1.743},{"z":0.64,"m":1.743},{"z":0.67,"m":1.743},{"z":0.71,"m":1.743},{"z":0.73,"m":1.743},{"z":0.75,"m":1.743},{"z":0.78,"m":1.743},{"z":0.80,"m":1.743},{"z":0.84,"m":1.743},{"z":0.90,"m":1.743},{"z":0.93,"m":1.743},{"z":0.96,"m":1.743},{"z":1.02,"m":1.743},{"z":1.05,"m":1.743},{"z":1.07,"m":1.743},{"z":1.11,"m":1.743},{"z":1.13,"m":1.743},{"z":1.17,"m":1.743},{"z":1.20,"m":1.743},{"z":1.25,"m":1.743},{"z":1.26,"m":1.743},{"z":1.29,"m":1.743},{"z":1.32,"m":1.743},{"z":1.34,"m":1.743},{"z":1.36,"m":1.743},{"z":1.40,"m":1.743},
{"z":0.13,"m":1.775},{"z":0.17,"m":1.775},{"z":0.24,"m":1.775},{"z":0.32,"m":1.775},{"z":0.35,"m":1.775},{"z":0.38,"m":1.775},{"z":0.41,"m":1.775},{"z":0.44,"m":1.775},{"z":0.47,"m":1.775},{"z":0.49,"m":1.775},{"z":0.51,"m":1.775},{"z":0.54,"m":1.775},{"z":0.55,"m":1.775},{"z":0.57,"m":1.775},{"z":0.61,"m":1.775},{"z":0.64,"m":1.775},{"z":0.66,"m":1.775},{"z":0.69,"m":1.775},{"z":0.71,"m":1.775},{"z":0.74,"m":1.775},{"z":0.76,"m":1.775},{"z":0.80,"m":1.775},{"z":0.86,"m":1.775},{"z":0.91,"m":1.775},{"z":0.94,"m":1.775},{"z":0.96,"m":1.775},{"z":1.03,"m":1.775},{"z":1.07,"m":1.775},{"z":1.13,"m":1.775},{"z":1.19,"m":1.775},{"z":1.41,"m":1.775},{"z":1.66,"m":1.775},{"z":1.77,"m":1.775},
{"z":0.32,"m":1.808},{"z":0.34,"m":1.808},{"z":0.37,"m":1.808},{"z":0.39,"m":1.808},{"z":0.41,"m":1.808},{"z":0.43,"m":1.808},{"z":0.45,"m":1.808},{"z":0.47,"m":1.808},{"z":0.49,"m":1.808},{"z":0.51,"m":1.808},{"z":0.53,"m":1.808},{"z":0.55,"m":1.808},{"z":0.58,"m":1.808},{"z":0.60,"m":1.808},{"z":0.63,"m":1.808},{"z":0.66,"m":1.808},{"z":0.70,"m":1.808},{"z":0.72,"m":1.808},{"z":0.74,"m":1.808},{"z":0.78,"m":1.808},{"z":0.80,"m":1.808},{"z":0.84,"m":1.808},{"z":0.91,"m":1.808},{"z":0.95,"m":1.808},{"z":1.00,"m":1.808},{"z":1.03,"m":1.808},{"z":1.07,"m":1.808},{"z":1.09,"m":1.808},{"z":1.13,"m":1.808},{"z":1.17,"m":1.808},{"z":1.21,"m":1.808},{"z":1.23,"m":1.808},{"z":1.27,"m":1.808},{"z":1.57,"m":1.808},{"z":1.71,"m":1.808},{"z":1.75,"m":1.808},
{"z":0.17,"m":1.84},{"z":0.22,"m":1.84},{"z":0.30,"m":1.84},{"z":0.33,"m":1.84},{"z":0.38,"m":1.84},{"z":0.41,"m":1.84},{"z":0.47,"m":1.84},{"z":0.49,"m":1.84},{"z":0.51,"m":1.84},{"z":0.53,"m":1.84},{"z":0.57,"m":1.84},{"z":0.59,"m":1.84},{"z":0.60,"m":1.84},{"z":0.63,"m":1.84},{"z":0.66,"m":1.84},{"z":0.68,"m":1.84},{"z":0.70,"m":1.84},{"z":0.72,"m":1.84},{"z":0.74,"m":1.84},{"z":0.78,"m":1.84},{"z":0.80,"m":1.84},{"z":0.82,"m":1.84},{"z":0.84,"m":1.84},{"z":0.93,"m":1.84},{"z":0.96,"m":1.84},{"z":1.00,"m":1.84},{"z":1.08,"m":1.84},{"z":1.15,"m":1.84},{"z":1.33,"m":1.84},{"z":1.36,"m":1.84},{"z":1.38,"m":1.84},{"z":1.91,"m":1.84},{"z":2.12,"m":1.84},
{"z":0.22,"m":1.873},{"z":0.24,"m":1.873},{"z":0.32,"m":1.873},{"z":0.38,"m":1.873},{"z":0.39,"m":1.873},{"z":0.44,"m":1.873},{"z":0.49,"m":1.873},{"z":0.53,"m":1.873},{"z":0.55,"m":1.873},{"z":0.58,"m":1.873},{"z":0.61,"m":1.873},{"z":0.66,"m":1.873},{"z":0.68,"m":1.873},{"z":0.70,"m":1.873},{"z":0.74,"m":1.873},{"z":0.78,"m":1.873},{"z":0.80,"m":1.873},{"z":0.83,"m":1.873},{"z":0.86,"m":1.873},{"z":0.87,"m":1.873},{"z":0.90,"m":1.873},{"z":0.93,"m":1.873},{"z":0.98,"m":1.873},{"z":1.04,"m":1.873},{"z":1.11,"m":1.873},{"z":1.15,"m":1.873},{"z":1.26,"m":1.873},{"z":1.59,"m":1.873},
{"z":0.18,"m":1.905},{"z":0.32,"m":1.905},{"z":0.37,"m":1.905},{"z":0.39,"m":1.905},{"z":0.45,"m":1.905},{"z":0.51,"m":1.905},{"z":0.55,"m":1.905},{"z":0.59,"m":1.905},{"z":0.62,"m":1.905},{"z":0.64,"m":1.905},{"z":0.66,"m":1.905},{"z":0.72,"m":1.905},{"z":0.78,"m":1.905},{"z":0.80,"m":1.905},{"z":0.82,"m":1.905},{"z":0.86,"m":1.905},{"z":0.90,"m":1.905},{"z":0.92,"m":1.905},{"z":0.96,"m":1.905},{"z":1.00,"m":1.905},{"z":1.05,"m":1.905},{"z":1.09,"m":1.905},{"z":1.13,"m":1.905},{"z":1.16,"m":1.905},{"z":1.26,"m":1.905},{"z":1.32,"m":1.905},{"z":1.35,"m":1.905},{"z":1.56,"m":1.905},
{"z":0.22,"m":1.938},{"z":0.25,"m":1.938},{"z":0.32,"m":1.938},{"z":0.35,"m":1.938},{"z":0.38,"m":1.938},{"z":0.42,"m":1.938},{"z":0.44,"m":1.938},{"z":0.46,"m":1.938},{"z":0.53,"m":1.938},{"z":0.56,"m":1.938},{"z":0.59,"m":1.938},{"z":0.64,"m":1.938},{"z":0.66,"m":1.938},{"z":0.70,"m":1.938},{"z":0.72,"m":1.938},{"z":0.76,"m":1.938},{"z":0.78,"m":1.938},{"z":0.80,"m":1.938},{"z":0.82,"m":1.938},{"z":0.84,"m":1.938},{"z":0.88,"m":1.938},{"z":0.93,"m":1.938},{"z":0.97,"m":1.938},
{"z":0.14,"m":1.97},{"z":0.24,"m":1.97},{"z":0.32,"m":1.97},{"z":0.35,"m":1.97},{"z":0.39,"m":1.97},{"z":0.42,"m":1.97},{"z":0.47,"m":1.97},{"z":0.49,"m":1.97},{"z":0.53,"m":1.97},{"z":0.56,"m":1.97},{"z":0.57,"m":1.97},{"z":0.59,"m":1.97},{"z":0.62,"m":1.97},{"z":0.65,"m":1.97},{"z":0.68,"m":1.97},{"z":0.72,"m":1.97},{"z":0.78,"m":1.97},{"z":0.80,"m":1.97},{"z":0.86,"m":1.97},{"z":0.88,"m":1.97},{"z":0.95,"m":1.97},{"z":0.98,"m":1.97},{"z":1.06,"m":1.97},{"z":1.09,"m":1.97},{"z":1.22,"m":1.97},{"z":1.35,"m":1.97},{"z":1.36,"m":1.97},{"z":1.80,"m":1.97},
{"z":0.24,"m":2.003},{"z":0.31,"m":2.003},{"z":0.33,"m":2.003},{"z":0.37,"m":2.003},{"z":0.39,"m":2.003},{"z":0.44,"m":2.003},{"z":0.47,"m":2.003},{"z":0.51,"m":2.003},{"z":0.55,"m":2.003},{"z":0.56,"m":2.003},{"z":0.61,"m":2.003},{"z":0.66,"m":2.003},{"z":0.70,"m":2.003},{"z":0.72,"m":2.003},{"z":0.78,"m":2.003},{"z":0.80,"m":2.003},{"z":0.86,"m":2.003},{"z":0.89,"m":2.003},{"z":0.93,"m":2.003},{"z":1.20,"m":2.003},{"z":1.31,"m":2.003},{"z":1.33,"m":2.003},
{"z":0.20,"m":2.035},{"z":0.33,"m":2.035},{"z":0.35,"m":2.035},{"z":0.38,"m":2.035},{"z":0.41,"m":2.035},{"z":0.45,"m":2.035},{"z":0.47,"m":2.035},{"z":0.51,"m":2.035},{"z":0.53,"m":2.035},{"z":0.56,"m":2.035},{"z":0.59,"m":2.035},{"z":0.62,"m":2.035},{"z":0.65,"m":2.035},{"z":0.70,"m":2.035},{"z":0.73,"m":2.035},{"z":0.78,"m":2.035},{"z":0.80,"m":2.035},{"z":0.86,"m":2.035},{"z":0.90,"m":2.035},{"z":0.95,"m":2.035},{"z":1.28,"m":2.035},
{"z":0.13,"m":2.068},{"z":0.23,"m":2.068},{"z":0.24,"m":2.068},{"z":0.32,"m":2.068},{"z":0.39,"m":2.068},{"z":0.43,"m":2.068},{"z":0.47,"m":2.068},{"z":0.49,"m":2.068},{"z":0.52,"m":2.068},{"z":0.55,"m":2.068},{"z":0.59,"m":2.068},{"z":0.62,"m":2.068},{"z":0.68,"m":2.068},{"z":0.72,"m":2.068},{"z":0.76,"m":2.068},{"z":0.80,"m":2.068},{"z":0.85,"m":2.068},{"z":0.88,"m":2.068},{"z":0.92,"m":2.068},{"z":0.96,"m":2.068},{"z":1.03,"m":2.068},{"z":1.20,"m":2.068},{"z":1.21,"m":2.068},{"z":1.23,"m":2.068},{"z":1.26,"m":2.068},{"z":1.28,"m":2.068},{"z":1.32,"m":2.068},
{"z":0.20,"m":2.09},{"z":0.23,"m":2.09},{"z":0.31,"m":2.09},{"z":0.36,"m":2.09},{"z":0.38,"m":2.09},{"z":0.40,"m":2.11},{"z":0.41,"m":2.08},{"z":0.43,"m":2.11},{"z":0.47,"m":2.09},{"z":0.50,"m":2.09},{"z":0.55,"m":2.12},{"z":0.58,"m":2.09},{"z":0.65,"m":2.09},{"z":0.70,"m":2.12},{"z":0.76,"m":2.10},{"z":0.78,"m":2.11},{"z":0.86,"m":2.09},{"z":0.90,"m":2.09},{"z":1.41,"m":2.09},{"z":1.47,"m":2.09},{"z":0.13,"m":2.12},{"z":1.27,"m":2.12},{"z":1.61,"m":2.12},{"z":1.71,"m":2.12},
{"z":0.23,"m":2.18},{"z":0.23,"m":2.15},{"z":0.24,"m":2.13},{"z":0.29,"m":2.15},{"z":0.35,"m":2.15},{"z":0.39,"m":2.19},{"z":0.44,"m":2.16},{"z":0.45,"m":2.15},{"z":0.48,"m":2.17},{"z":0.53,"m":2.15},{"z":0.57,"m":2.16},{"z":0.62,"m":2.15},{"z":0.69,"m":2.15},{"z":0.70,"m":2.15},{"z":0.71,"m":2.15},{"z":0.92,"m":2.15},{"z":0.95,"m":2.15},{"z":1.04,"m":2.18},{"z":1.35,"m":2.19},{"z":1.38,"m":2.15},{"z":1.42,"m":2.19},{"z":2.23,"m":2.15},
{"z":0.32,"m":2.25},{"z":0.34,"m":2.25},{"z":0.37,"m":2.22},{"z":0.39,"m":2.25},{"z":0.44,"m":2.25},{"z":0.49,"m":2.22},{"z":0.53,"m":2.22},{"z":0.59,"m":2.22},{"z":0.60,"m":2.25},{"z":0.69,"m":2.25},{"z":0.71,"m":2.24},{"z":0.72,"m":2.25},{"z":0.78,"m":2.24},{"z":0.80,"m":2.24},{"z":0.95,"m":2.25},{"z":1.11,"m":2.25},{"z":1.15,"m":2.25},{"z":1.11,"m":2.22},{"z":1.21,"m":2.25},{"z":1.25,"m":2.25},{"z":1.62,"m":2.25},{"z":1.85,"m":2.22},
{"z":0.14,"m":2.35},{"z":0.32,"m":2.35},{"z":0.33,"m":2.31},{"z":0.38,"m":2.35},{"z":0.43,"m":2.31},{"z":0.45,"m":2.38},{"z":0.50,"m":2.31},{"z":0.52,"m":2.31},{"z":0.59,"m":2.31},{"z":0.61,"m":2.35},{"z":0.66,"m":2.31},{"z":0.68,"m":2.31},{"z":0.72,"m":2.31},{"z":0.78,"m":2.31},{"z":0.82,"m":2.29},{"z":0.90,"m":2.31},{"z":1.09,"m":2.31},{"z":1.10,"m":2.31},{"z":1.00,"m":2.31},{"z":1.23,"m":2.29},{"z":1.26,"m":2.35},{"z":1.31,"m":2.35},{"z":1.40,"m":2.35},{"z":1.47,"m":2.29},{"z":1.65,"m":2.29},
{"z":0.17,"m":2.44},{"z":0.26,"m":2.41},{"z":0.23,"m":2.38},{"z":0.24,"m":2.38},{"z":0.49,"m":2.44},{"z":0.50,"m":2.44},{"z":0.53,"m":2.44},{"z":0.56,"m":2.48},{"z":0.54,"m":2.38},{"z":0.58,"m":2.38},{"z":0.59,"m":2.39},{"z":0.61,"m":2.43},{"z":0.62,"m":2.36},{"z":0.68,"m":2.38},{"z":0.74,"m":2.44},{"z":0.75,"m":2.44},{"z":0.78,"m":2.38},{"z":0.83,"m":2.44},{"z":0.85,"m":2.44},{"z":1.03,"m":2.38},{"z":0.95,"m":2.38},{"z":1.23,"m":2.44},{"z":1.36,"m":2.44},{"z":1.53,"m":2.47},{"z":1.58,"m":2.47},
{"z":0.30,"m":2.51},{"z":0.31,"m":2.51},{"z":0.33,"m":2.51},{"z":0.34,"m":2.51},{"z":0.36,"m":2.51},{"z":0.38,"m":2.51},{"z":0.41,"m":2.51},{"z":0.56,"m":2.51},{"z":0.72,"m":2.51},{"z":0.74,"m":2.51},{"z":0.82,"m":2.48},{"z":0.83,"m":2.47},{"z":0.86,"m":2.46},{"z":1.06,"m":2.51},{"z":1.53,"m":2.51},{"z":1.24,"m":2.54},
{"z":0.21,"m":2.58},{"z":0.24,"m":2.60},{"z":0.39,"m":2.58},{"z":0.58,"m":2.60},{"z":0.64,"m":2.54},{"z":0.70,"m":2.54},{"z":0.71,"m":2.58},{"z":0.72,"m":2.59},{"z":0.73,"m":2.54},{"z":0.77,"m":2.54},{"z":0.81,"m":2.55},{"z":0.82,"m":2.54},{"z":0.84,"m":2.58},{"z":0.85,"m":2.54},{"z":0.90,"m":2.54},{"z":0.95,"m":2.54},{"z":0.99,"m":2.58},{"z":1.04,"m":2.60},{"z":1.29,"m":2.58},{"z":1.31,"m":2.58},{"z":1.49,"m":2.64},{"z":1.52,"m":2.64},
{"z":0.33,"m":2.70},{"z":0.41,"m":2.70},{"z":0.43,"m":2.68},{"z":0.44,"m":2.64},{"z":0.58,"m":2.67},{"z":0.66,"m":2.70},{"z":0.78,"m":2.70},{"z":0.80,"m":2.67},{"z":0.81,"m":2.70},{"z":0.84,"m":2.70},{"z":0.93,"m":2.67},{"z":0.96,"m":2.67},{"z":1.16,"m":2.70},{"z":0.36,"m":2.62},{"z":0.43,"m":2.62},{"z":0.46,"m":2.64},{"z":1.09,"m":2.61},{"z":1.22,"m":2.70},{"z":1.29,"m":2.70},{"z":1.60,"m":2.72},
{"z":0.30,"m":2.76},{"z":0.41,"m":2.76},{"z":0.49,"m":2.81},{"z":0.53,"m":2.83},{"z":0.59,"m":2.76},{"z":0.66,"m":2.76},{"z":0.69,"m":2.74},{"z":0.72,"m":2.74},{"z":0.80,"m":2.76},{"z":0.82,"m":2.75},{"z":0.84,"m":2.81},{"z":0.91,"m":2.76},{"z":0.82,"m":2.79},{"z":1.31,"m":2.84},{"z":1.33,"m":2.80},{"z":1.24,"m":2.79},
{"z":0.17,"m":2.93},{"z":0.22,"m":2.93},{"z":0.24,"m":2.93},{"z":0.36,"m":2.95},{"z":0.39,"m":2.89},{"z":0.43,"m":2.93},{"z":0.54,"m":2.95},{"z":0.60,"m":2.95},{"z":0.62,"m":2.95},{"z":0.64,"m":2.90},{"z":0.71,"m":2.93},{"z":0.78,"m":2.86},{"z":0.80,"m":2.86},{"z":0.93,"m":2.93},{"z":0.32,"m":2.86},{"z":0.38,"m":2.86},{"z":0.40,"m":2.85},{"z":0.64,"m":2.86},{"z":0.93,"m":2.86},{"z":1.23,"m":2.90},{"z":1.40,"m":2.93},{"z":1.52,"m":2.93},
{"z":0.12,"m":3.00},{"z":0.21,"m":3.02},{"z":0.32,"m":3.02},{"z":0.36,"m":3.05},{"z":0.39,"m":3.05},{"z":0.61,"m":3.02},{"z":0.68,"m":3.00},{"z":0.71,"m":3.02},{"z":0.83,"m":3.02},{"z":1.06,"m":3.00},{"z":1.31,"m":3.00},{"z":1.35,"m":2.98},{"z":1.36,"m":3.02},{"z":1.63,"m":3.06},
{"z":0.53,"m":3.09},{"z":0.54,"m":3.09},{"z":0.55,"m":3.09},{"z":0.56,"m":3.09},{"z":0.57,"m":3.13},{"z":0.72,"m":3.09},{"z":0.97,"m":3.12},{"z":1.01,"m":3.13},{"z":1.07,"m":3.09},
{"z":0.50,"m":3.19},{"z":0.51,"m":3.19},{"z":0.46,"m":3.16},{"z":0.58,"m":3.19},{"z":0.91,"m":3.16},{"z":0.96,"m":3.16},{"z":0.98,"m":3.16},{"z":1.20,"m":3.19},{"z":0.30,"m":3.25},{"z":0.28,"m":3.22},{"z":0.26,"m":3.19},{"z":0.42,"m":3.22},{"z":0.46,"m":3.25},{"z":0.56,"m":3.22},{"z":0.57,"m":3.25},{"z":0.64,"m":3.22},{"z":0.66,"m":3.25},{"z":0.74,"m":3.22},{"z":0.84,"m":3.22},{"z":1.01,"m":3.19},{"z":1.03,"m":3.22},{"z":0.92,"m":3.25},{"z":1.79,"m":3.22},
{"z":0.30,"m":3.28},{"z":0.39,"m":3.28},{"z":0.24,"m":3.38},{"z":0.36,"m":3.41},{"z":0.43,"m":3.38},{"z":0.60,"m":3.34},{"z":0.61,"m":3.31},{"z":0.65,"m":3.31},{"z":0.66,"m":3.34},{"z":0.69,"m":3.38},{"z":0.72,"m":3.31},{"z":0.81,"m":3.41},{"z":0.86,"m":3.41},{"z":0.72,"m":3.48},{"z":0.33,"m":3.51},{"z":0.47,"m":3.51},{"z":0.51,"m":3.51},{"z":0.54,"m":3.48},{"z":0.77,"m":3.51},{"z":0.78,"m":3.44},{"z":0.93,"m":3.48},{"z":1.05,"m":3.51},{"z":1.05,"m":3.44},{"z":1.57,"m":3.48},
{"z":0.26,"m":3.61},{"z":0.30,"m":3.57},{"z":0.45,"m":3.61},{"z":0.66,"m":3.64},{"z":0.69,"m":3.61},{"z":0.72,"m":3.61},{"z":0.73,"m":3.64},{"z":0.75,"m":3.61},{"z":0.88,"m":3.57},{"z":1.07,"m":3.61},{"z":0.49,"m":3.64},{"z":0.50,"m":3.66},{"z":0.49,"m":3.70},{"z":0.52,"m":3.70},{"z":0.54,"m":3.70},{"z":0.54,"m":3.80},{"z":0.12,"m":3.72},{"z":0.21,"m":3.70},{"z":0.37,"m":3.72},{"z":0.40,"m":3.72},{"z":0.38,"m":3.79},{"z":0.39,"m":3.77},{"z":0.88,"m":3.76},{"z":1.36,"m":3.70},
{"z":0.17,"m":3.83},{"z":0.21,"m":3.86},{"z":0.33,"m":3.83},{"z":0.32,"m":3.89},{"z":0.34,"m":3.95},{"z":0.35,"m":3.92},{"z":0.39,"m":3.89},{"z":0.41,"m":3.89},{"z":0.48,"m":3.92},{"z":0.50,"m":3.89},{"z":0.51,"m":3.92},{"z":0.52,"m":3.95},{"z":0.53,"m":4.05},{"z":0.64,"m":4.05},{"z":0.78,"m":3.95},{"z":0.81,"m":3.95},{"z":0.81,"m":3.83},{"z":0.85,"m":3.89},{"z":0.87,"m":4.02},{"z":0.78,"m":4.08},{"z":1.29,"m":3.83},{"z":1.38,"m":3.95},
{"z":0.21,"m":4.40},{"z":0.24,"m":4.25},{"z":0.26,"m":4.27},{"z":0.30,"m":4.25},{"z":0.33,"m":4.18},{"z":0.34,"m":4.25},{"z":0.36,"m":4.15},{"z":0.37,"m":4.27},{"z":0.56,"m":4.15},{"z":0.57,"m":4.15},{"z":0.72,"m":4.22},{"z":0.90,"m":4.27},{"z":0.49,"m":4.51},{"z":0.59,"m":4.47},{"z":0.60,"m":4.34},{"z":0.66,"m":4.44},{"z":0.74,"m":4.47},{"z":0.89,"m":4.47},
{"z":0.16,"m":4.63},{"z":0.17,"m":4.56},{"z":0.23,"m":4.56},{"z":0.34,"m":4.60},{"z":0.41,"m":4.60},{"z":0.44,"m":4.56},{"z":0.37,"m":4.69},{"z":0.80,"m":4.60},{"z":0.87,"m":4.69},{"z":0.46,"m":4.76},{"z":0.71,"m":4.76},{"z":0.75,"m":4.76},{"z":0.59,"m":4.73},{"z":0.69,"m":4.85},{"z":0.93,"m":4.82},{"z":1.36,"m":4.69},
{"z":0.31,"m":4.95},{"z":0.42,"m":4.95},{"z":0.43,"m":4.95},{"z":0.44,"m":4.89},{"z":0.64,"m":4.98},{"z":0.80,"m":4.92},{"z":0.52,"m":5.24},{"z":0.23,"m":5.31},{"z":0.73,"m":5.33},{"z":0.90,"m":5.33},{"z":0.39,"m":5.41},{"z":0.81,"m":5.41},{"z":0.93,"m":5.47},{"z":0.42,"m":5.56},{"z":0.43,"m":5.53},{"z":0.36,"m":5.69},{"z":0.85,"m":5.69},{"z":0.77,"m":5.73},{"z":0.24,"m":5.77},
{"z":0.43,"m":5.99},{"z":0.51,"m":5.92},{"z":0.89,"m":5.96},{"z":0.66,"m":6.08},{"z":0.71,"m":6.15},{"z":0.31,"m":6.18},{"z":0.90,"m":6.30},{"z":0.36,"m":6.43},{"z":0.64,"m":6.62},{"z":0.31,"m":6.76},{"z":0.28,"m":6.85},{"z":0.54,"m":6.85},{"z":0.60,"m":7.01},{"z":0.64,"m":7.01},{"z":0.37,"m":7.30},{"z":1.18,"m":7.36},{"z":0.56,"m":7.59},{"z":0.24,"m":7.89},{"z":0.24,"m":7.95},{"z":0.52,"m":7.89},{"z":0.17,"m":8.40},{"z":0.62,"m":8.88},{"z":0.50,"m":8.97},{"z":0.23,"m":9.70},{"z":0.87,"m":9.95}
]
},
"vconcat":[
{"width":752,"height":696,
"resolve":{"axis":{"x":"independent","y":"independent"}},
"layer":[
{"data":{"name":"labels"},"mark":{"type":"text","align":"left","baseline":"alphabetic","fontSize":30,"font":"DejaVu Serif"},
"encoding":{"x":{"field":"z","type":"quantitative","scale":{"domain":[0.1,2.3],"nice":false,"zero":false},"axis":null},
"y":{"field":"m","type":"quantitative","scale":{"type":"log","domain":[1,10],"nice":false},"axis":null},
"text":{"field":"t","type":"nominal"},
"color":{"field":"s","type":"nominal","scale":{"domain":["Fx","Y2","Y1","Y05"],"range":["#00ee00","#ff0000","#ff00ff","#0000ff"]},"legend":null}}},
{"data":{"name":"pts"},"mark":{"type":"square","size":5,"color":"#000000","opacity":1},
"encoding":{"x":{"field":"z","type":"quantitative","scale":{"domain":[0.1,2.3],"nice":false,"zero":false},"axis":{"orient":"bottom","values":[0.5,1,1.5,2],"labels":false,"ticks":false,"tickSize":0,"domain":true,"title":null}},
"y":{"field":"m","type":"quantitative","scale":{"type":"log","domain":[1,10],"nice":false},"axis":{"orient":"left","values":[1,10],"labelExpr":"datum.value < 5 ? '10¹⁴' : '10¹⁵'","ticks":false,"tickSize":0,"labelPadding":16,"domain":true,"title":"cluster mass [M⊙]","titlePadding":24}}}},
{"data":{"name":"curves"},"transform":[{"filter":"datum.s == 'r'"}],"mark":{"type":"line","color":"#ff0000","strokeWidth":1.5,"interpolate":"monotone","clip":true},
"encoding":{"x":{"field":"z","type":"quantitative","scale":{"domain":[0.1,2.3],"nice":false,"zero":false},"axis":{"orient":"bottom","values":[0.5,1,1.5,2],"labels":false,"tickSize":-16,"domain":false,"title":null}},
"y":{"field":"m","type":"quantitative","scale":{"type":"log","domain":[1,10],"nice":false},"axis":{"orient":"left","values":[1,10],"labels":false,"tickSize":-16,"domain":false,"title":null}}}},
{"data":{"name":"curves"},"transform":[{"filter":"datum.s == 'mg'"}],"mark":{"type":"line","color":"#ff00ff","strokeWidth":1.5,"interpolate":"monotone","clip":true},
"encoding":{"x":{"field":"z","type":"quantitative","scale":{"domain":[0.1,2.3],"nice":false,"zero":false},"axis":{"orient":"bottom","values":[0.2,0.3,0.4,0.6,0.7,0.8,0.9,1.1,1.2,1.3,1.4,1.6,1.7,1.8,1.9,2.1,2.2],"labels":false,"tickSize":-8,"domain":false,"title":null}},
"y":{"field":"m","type":"quantitative","scale":{"type":"log","domain":[1,10],"nice":false},"axis":{"orient":"left","values":[2,3,4,5,6,7,8,9],"labels":false,"tickSize":-8,"domain":false,"title":null}}}},
{"data":{"name":"curves"},"transform":[{"filter":"datum.s == 'b'"}],"mark":{"type":"line","color":"#0000ff","strokeWidth":1.5,"interpolate":"monotone","clip":true},
"encoding":{"x":{"field":"z","type":"quantitative","scale":{"domain":[0.1,2.3],"nice":false,"zero":false},"axis":{"orient":"top","values":[0.5,1,1.5,2],"labels":false,"tickSize":-16,"domain":true,"title":null}},
"y":{"field":"m","type":"quantitative","scale":{"type":"log","domain":[1,10],"nice":false},"axis":{"orient":"right","values":[1,10],"labels":false,"tickSize":-16,"domain":true,"title":null}}}},
{"data":{"name":"curves"},"transform":[{"filter":"datum.s == 'g'"}],"mark":{"type":"line","color":"#00ee00","strokeWidth":1.5,"interpolate":"monotone","clip":true},
"encoding":{"x":{"field":"z","type":"quantitative","scale":{"domain":[0.1,2.3],"nice":false,"zero":false},"axis":{"orient":"top","values":[0.2,0.3,0.4,0.6,0.7,0.8,0.9,1.1,1.2,1.3,1.4,1.6,1.7,1.8,1.9,2.1,2.2],"labels":false,"tickSize":-8,"domain":false,"title":null}},
"y":{"field":"m","type":"quantitative","scale":{"type":"log","domain":[1,10],"nice":false},"axis":{"orient":"right","values":[2,3,4,5,6,7,8,9],"labels":false,"tickSize":-8,"domain":false,"title":null}}}}
]},
{"width":752,"height":348,
"resolve":{"axis":{"x":"independent","y":"independent"}},
"layer":[
{"data":{"name":"hist"},"transform":[{"filter":"datum.s == 'r'"}],"mark":{"type":"line","color":"#ff0000","strokeWidth":2,"interpolate":"step-after","clip":true},
"encoding":{"x":{"field":"z","type":"quantitative","scale":{"domain":[0.1,2.3],"nice":false,"zero":false},"axis":{"orient":"bottom","values":[0.5,1,1.5,2],"format":"~g","ticks":false,"tickSize":0,"labelPadding":16,"domain":true,"title":"redshift z","titleFontSize":28,"titlePadding":11}},
"y":{"field":"n","type":"quantitative","scale":{"domain":[0,230],"nice":false,"zero":false},"axis":{"orient":"left","values":[0,50,100,150,200],"format":"d","ticks":false,"tickSize":0,"labelPadding":16,"domain":true,"title":"N clusters","titlePadding":12}}}},
{"data":{"name":"hist"},"transform":[{"filter":"datum.s == 'mg'"}],"mark":{"type":"line","color":"#ff00ff","strokeWidth":2,"interpolate":"step-after","clip":true},
"encoding":{"x":{"field":"z","type":"quantitative","scale":{"domain":[0.1,2.3],"nice":false,"zero":false},"axis":{"orient":"bottom","values":[0.5,1,1.5,2],"labels":false,"tickSize":-16,"domain":false,"title":null}},
"y":{"field":"n","type":"quantitative","scale":{"domain":[0,230],"nice":false,"zero":false},"axis":{"orient":"left","values":[0,50,100,150,200],"labels":false,"tickSize":-16,"domain":false,"title":null}}}},
{"data":{"name":"hist"},"transform":[{"filter":"datum.s == 'b'"}],"mark":{"type":"line","color":"#0000ff","strokeWidth":2,"interpolate":"step-after","clip":true},
"encoding":{"x":{"field":"z","type":"quantitative","scale":{"domain":[0.1,2.3],"nice":false,"zero":false},"axis":{"orient":"bottom","values":[0.2,0.3,0.4,0.6,0.7,0.8,0.9,1.1,1.2,1.3,1.4,1.6,1.7,1.8,1.9,2.1,2.2],"labels":false,"tickSize":-8,"domain":false,"title":null}},
"y":{"field":"n","type":"quantitative","scale":{"domain":[0,230],"nice":false,"zero":false},"axis":{"orient":"left","values":[10,20,30,40,60,70,80,90,110,120,130,140,160,170,180,190,210,220],"labels":false,"tickSize":-8,"domain":false,"title":null}}}},
{"data":{"name":"hist"},"transform":[{"filter":"datum.s == 'g'"}],"mark":{"type":"line","color":"#00ee00","strokeWidth":2,"interpolate":"step-after","clip":true},
"encoding":{"x":{"field":"z","type":"quantitative","scale":{"domain":[0.1,2.3],"nice":false,"zero":false},"axis":{"orient":"top","values":[0.5,1,1.5,2],"labels":false,"tickSize":-16,"domain":true,"title":null}},
"y":{"field":"n","type":"quantitative","scale":{"domain":[0,230],"nice":false,"zero":false},"axis":{"orient":"right","values":[0,50,100,150,200],"labels":false,"tickSize":-16,"domain":true,"title":null}}}},
{"data":{"name":"notes"},"mark":{"type":"text","align":"left","baseline":"alphabetic","fontSize":29,"font":"DejaVu Serif","color":"#7a7a7a"},
"encoding":{"x":{"field":"z","type":"quantitative","scale":{"domain":[0.1,2.3],"nice":false,"zero":false},"axis":{"orient":"top","values":[0.2,0.3,0.4,0.6,0.7,0.8,0.9,1.1,1.2,1.3,1.4,1.6,1.7,1.8,1.9,2.1,2.2],"labels":false,"tickSize":-8,"domain":false,"title":null}},
"y":{"field":"n","type":"quantitative","scale":{"domain":[0,230],"nice":false,"zero":false},"axis":{"orient":"right","values":[10,20,30,40,60,70,80,90,110,120,130,140,160,170,180,190,210,220],"labels":false,"tickSize":-8,"domain":false,"title":null}},
"text":{"field":"t","type":"nominal"}}}
]}
]
}
